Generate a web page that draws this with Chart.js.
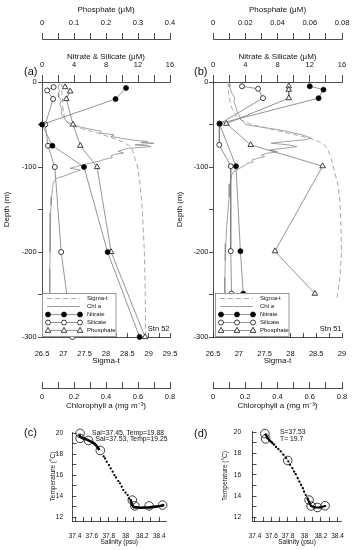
<!DOCTYPE html>
<html>
<head>
<meta charset="utf-8">
<script src="https://cdn.jsdelivr.net/npm/chart.js@4.4.1/dist/chart.umd.min.js"></script>
<style>
  html, body { margin: 0; padding: 0; background: #fff; }
  #fig { position: relative; width: 353px; height: 550px; overflow: hidden; font-family: 'Liberation Sans', Arial, sans-serif; color: #111; }
  .box { position: absolute; }
  .box canvas { display: block; }
  .lab { position: absolute; white-space: nowrap; line-height: 1; transform: translateY(-50%); }
  .lab.r { transform: translate(-100%, -50%); }
</style>
</head>
<body>
<div id="fig">
  <div class="box" style="left:0;top:0"><canvas id="cA" width="180" height="415"></canvas></div>
  <div class="box" style="left:170px;top:0"><canvas id="cB" width="183" height="415"></canvas></div>
  <div class="box" style="left:0;top:415px"><canvas id="cC" width="176" height="135"></canvas></div>
  <div class="box" style="left:176px;top:415px"><canvas id="cD" width="177" height="135"></canvas></div>

  <div class="lab" style="left:24px;top:71px;font-size:11px">(a)</div>
  <div class="lab" style="left:194px;top:71px;font-size:11px">(b)</div>
  <div class="lab" style="left:24px;top:432px;font-size:11px">(c)</div>
  <div class="lab" style="left:194px;top:433px;font-size:11px">(d)</div>
  <div class="lab r" style="left:169.5px;top:329px;font-size:7.5px">Stn 52</div>
  <div class="lab r" style="left:341.5px;top:329px;font-size:7.5px">Stn 51</div>
  <div class="lab" style="left:92px;top:432.7px;font-size:6.8px">Sal=37.45, Temp=19.88</div>
  <div class="lab" style="left:95.5px;top:438.5px;font-size:6.8px">Sal=37.53, Temp=19.25</div>
  <div class="lab" style="left:280px;top:431.7px;font-size:6.8px">S=37.53</div>
  <div class="lab" style="left:280px;top:439.3px;font-size:6.8px">T= 19.7</div>
</div>

<script>
// ---- (a) Stn 52 : depth profiles
const nitDepthA = [-7, -20, -50, -75, -100, -200, -300];
const nitrateA = [10.5, 9.2, 0, 1.3, 5.25, 8.2, 12.2];
const silDepthA = [-6, -10, -20, -50, -75, -100, -200, -300];
const silicateA = [1.45, 0.65, 1.38, 0.41, 0.75, 1.6, 2.4, 3.8];
const phoDepthA = [-6, -11, -20, -50, -75, -100, -200, -300];
const phosphateA = [0.072, 0.088, 0.076, 0.097, 0.12, 0.172, 0.216, 0.322];
const sigDepthA = [0, -10, -20, -30, -40, -46, -50, -55, -60, -65, -70, -75, -80, -90, -100, -120, -150, -200, -250, -300];
const sigmaA = [26.97, 26.96, 26.98, 26.99, 27.02, 27.06, 27.15, 27.45, 27.8, 28.1, 28.38, 28.55, 28.62, 28.68, 28.74, 28.8, 28.85, 28.9, 28.92, 28.93];
const chlDepthA = [-2, -6, -10, -14, -18, -22, -26, -30, -34, -38, -42, -46, -50, -53, -55, -58, -60, -62, -64, -67,
  -69, -70, -71, -72, -73, -74, -75, -76, -78, -80, -81.5, -83.5, -85, -87, -89, -91, -93, -95, -97, -99,
  -101.5, -103.5, -105, -107, -109, -111, -113, -116, -119, -125, -135, -145, -154, -170, -185, -200, -220, -240, -260, -280, -300];
const chlA = [0.11, 0.1, 0.11, 0.1, 0.105, 0.12, 0.11, 0.12, 0.125, 0.12, 0.14, 0.15, 0.19, 0.24, 0.29, 0.37, 0.36, 0.45, 0.43, 0.52,
  0.6, 0.66, 0.62, 0.7, 0.64, 0.58, 0.66, 0.68, 0.54, 0.5, 0.475, 0.51, 0.46, 0.43, 0.44, 0.39, 0.36, 0.31, 0.27, 0.225,
  0.175, 0.24, 0.22, 0.186, 0.16, 0.133, 0.092, 0.08, 0.07, 0.066, 0.06, 0.057, 0.054, 0.052, 0.05, 0.05, 0.049, 0.048, 0.048, 0.049, 0.05];

// ---- (b) Stn 51
const nitDepthB = [-5, -9, -19, -49, -99, -199, -249];
const nitrateB = [12.0, 13.7, 13.1, 0.8, 2.85, 3.4, 3.75];
const silDepthB = [-5, -8, -19, -49, -74, -99, -199, -249];
const silicateB = [3.6, 5.6, 6.2, 0.85, 0.78, 2.2, 2.2, 2.3];
const phoDepthB = [-5, -9, -19, -49, -74, -99, -199, -249];
const phosphateB = [0.047, 0.047, 0.047, 0.0083, 0.0234, 0.068, 0.0384, 0.0632];
const sigDepthB = [0, -10, -20, -30, -40, -45, -50, -55, -60, -66, -70, -74, -80, -90, -100, -120, -140, -170, -200, -230, -255];
const sigmaB = [26.79, 26.8, 26.82, 26.86, 26.95, 27.05, 27.25, 27.6, 27.95, 28.37, 28.55, 28.66, 28.73, 28.79, 28.83, 28.92, 28.96, 28.98, 28.99, 28.96, 28.9];
const chlDepthB = [-2, -6, -10, -14, -19, -24, -28, -31, -36, -40, -44, -48, -50, -52, -54, -56, -58, -60, -62, -64,
  -66, -68, -70, -72, -74, -76, -78, -80, -82, -84, -86, -88, -90, -92, -94, -96, -98, -100, -102, -105,
  -110, -120, -135, -150, -170, -190, -210, -230, -252];
const chlB = [0.1, 0.104, 0.11, 0.12, 0.135, 0.13, 0.14, 0.145, 0.15, 0.165, 0.17, 0.197, 0.2, 0.26, 0.33, 0.4, 0.46, 0.5, 0.55, 0.58,
  0.61, 0.57, 0.45, 0.36, 0.47, 0.52, 0.44, 0.35, 0.4, 0.33, 0.3, 0.32, 0.27, 0.24, 0.25, 0.21, 0.2, 0.18, 0.16, 0.13,
  0.115, 0.105, 0.1, 0.093, 0.085, 0.08, 0.076, 0.074, 0.073];

// ---- (c) T-S diagram
const bottleSalC = [37.46, 37.46, 37.56, 37.70, 38.08, 38.11, 38.28, 38.44];
const bottleTempC = [19.97, 19.5, 19.3, 18.35, 13.65, 13.1, 13.1, 13.18];
const ctdSalC = [37.74, 37.756, 37.776, 37.803, 37.823, 37.847, 37.866, 37.886, 37.914, 37.934, 37.954, 37.973, 38.0, 38.025, 38.04, 38.06];
const ctdTempC = [17.8, 17.6, 17.28, 16.97, 16.65, 16.34, 16.02, 15.8, 15.45, 15.24, 14.92, 14.6, 14.35, 14.13, 13.82, 13.66];
const topSalC = [37.45, 37.46, 37.49, 37.53, 37.56, 37.6, 37.63, 37.66, 37.69];
const topTempC = [19.88, 19.65, 19.5, 19.42, 19.3, 19.15, 19.0, 18.75, 18.4];
const botSalC = [38.06, 38.07, 38.08, 38.1, 38.17, 38.29, 38.41, 38.46];
const botTempC = [13.66, 13.4, 13.15, 12.98, 12.93, 12.96, 13.09, 13.18];

// ---- (d) T-S diagram
const bottleSalD = [37.52, 37.53, 37.797, 38.056, 38.08, 38.157, 38.25];
const bottleTempD = [19.86, 19.36, 17.34, 13.63, 13.07, 12.94, 13.1];
const ctdSalD = [37.53, 37.55, 37.574, 37.603, 37.631, 37.655, 37.683, 37.712, 37.744, 37.777, 37.805, 37.825, 37.853,
  37.874, 37.894, 37.918, 37.938, 37.959, 37.98, 37.995, 38.016, 38.036, 38.06, 38.08, 38.13, 38.19, 38.25];
const ctdTempD = [19.76, 19.45, 19.23, 19.04, 18.82, 18.6, 18.41, 18.19, 17.88, 17.56, 17.25, 16.93, 16.62,
  16.3, 16.06, 15.68, 15.36, 15.05, 14.74, 14.42, 14.1, 13.79, 13.38, 13.07, 12.94, 12.94, 13.07];
const topSalD = [37.52, 37.53, 37.55, 37.574, 37.603, 37.631];
const topTempD = [19.7, 19.76, 19.45, 19.23, 19.04, 18.82];
const botSalD = [38.036, 38.06, 38.08, 38.13, 38.19, 38.25];
const botTempD = [13.79, 13.38, 13.07, 12.94, 12.94, 13.07];

// tick values / labels for the T-S panels
const salTicks = [37.4, 37.5, 37.6, 37.7, 37.8, 37.9, 38.0, 38.1, 38.2, 38.3, 38.4];
const salTickLabels = ['37.4', '', '37.6', '', '37.8', '', '38', '', '38.2', '', '38.4'];
const tempTicks = [12, 13, 14, 15, 16, 17, 18, 19, 20];
const tempTickLabels = ['12', '', '14', '', '16', '', '18', '', '20'];

const FONT = "'Liberation Sans', Arial, sans-serif";
Chart.defaults.font.family = FONT;
Chart.defaults.color = '#111';
Chart.defaults.animation = false;

const zip = (xs, ys) => xs.map((x, i) => ({ x: x, y: ys[i] }));
const every = (step) => (v) => {
  const r = v / step;
  return Math.abs(r - Math.round(r)) < 1e-6 ? String(+v.toFixed(3)) : '';
};

// one axis; size fixes its box so the stacked axes land where the figure has them
function axis(o) {
  return {
    type: 'linear', position: o.pos, weight: o.weight || 0,
    min: o.min, max: o.max,
    afterBuildTicks: o.ticks ? (s) => { s.ticks = o.ticks.map(v => ({ value: v })); } : undefined,
    ticks: {
      stepSize: o.step, autoSkip: false, maxRotation: 0, padding: o.pad,
      font: { size: o.fs || 7.5 }, color: '#111',
      callback: o.labels ? (v, i) => o.labels[i] : every(o.every)
    },
    grid: { drawOnChartArea: false, tickLength: o.tl, color: '#222', lineWidth: 0.8 },
    border: { color: '#222', width: 0.8 },
    title: { display: true, text: o.title, font: { size: o.tfs || 8 }, color: '#111', padding: o.tpad },
    afterFit: (s) => {
      if (o.pos === 'left') s.width = o.size; else s.height = o.size;
      s.paddingLeft = 0; s.paddingRight = 0; s.paddingTop = 0; s.paddingBottom = 0;
    }
  };
}

function drawMarker(ctx, style, x, y, r, fill, stroke) {
  ctx.beginPath();
  if (style === 'triangle') {
    ctx.moveTo(x, y - r);
    ctx.lineTo(x + r * 0.87, y + r * 0.6);
    ctx.lineTo(x - r * 0.87, y + r * 0.6);
    ctx.closePath();
  } else {
    ctx.arc(x, y, r, 0, Math.PI * 2);
  }
  ctx.fillStyle = fill;
  ctx.fill();
  ctx.strokeStyle = stroke;
  ctx.lineWidth = 0.8;
  ctx.stroke();
}

// boxed legend sitting in the lower-left corner of the plot
const boxLegend = {
  id: 'boxLegend',
  afterDatasetsDraw(chart, args, opts) {
    if (!opts || !opts.show) return;
    const { ctx, chartArea } = chart;
    const w = 74.5, h = 44;
    const x0 = chartArea.left + opts.dx, y0 = chartArea.bottom - h;
    ctx.save();
    ctx.fillStyle = '#fff';
    ctx.fillRect(x0, y0, w, h);
    ctx.strokeStyle = '#555';
    ctx.lineWidth = 0.6;
    ctx.strokeRect(x0 + 0.5, y0 + 0.5, w - 1, h - 1);
    ctx.font = '6px ' + FONT;
    ctx.textBaseline = 'middle';
    chart.data.datasets.forEach((ds, i) => {
      const y = y0 + 5.5 + i * 8;
      ctx.setLineDash(ds.borderDash || []);
      ctx.strokeStyle = ds.borderColor;
      ctx.lineWidth = ds.borderWidth;
      ctx.beginPath();
      ctx.moveTo(x0 + 5, y);
      ctx.lineTo(x0 + 38, y);
      ctx.stroke();
      ctx.setLineDash([]);
      if (ds.pointRadius > 0) {
        [6, 22, 38].forEach(dx => drawMarker(ctx, ds.pointStyle, x0 + dx, y, ds.pointRadius, ds.pointBackgroundColor, ds.pointBorderColor));
      }
      ctx.fillStyle = '#111';
      ctx.fillText(ds.label, x0 + 45, y);
    });
    ctx.restore();
  }
};

function makeProfile(id, d) {
  const marker = (label, data, axisId, style, fill) => ({
    label: label, data: data, xAxisID: axisId, yAxisID: 'y', showLine: true,
    borderColor: '#7a7a7a', borderWidth: 0.8,
    pointStyle: style, pointRadius: style === 'triangle' ? 3.2 : 2.5,
    pointBackgroundColor: fill, pointBorderColor: '#111', pointBorderWidth: 0.8,
    clip: false, order: 0
  });
  return new Chart(document.getElementById(id), {
    type: 'scatter',
    data: {
      datasets: [
        { label: 'Sigma-t', data: d.sig, xAxisID: 'xSig', yAxisID: 'y', showLine: true, borderColor: '#a0a0a0', borderWidth: 0.9, borderDash: [5, 3], pointRadius: 0, order: 2 },
        { label: 'Chl a', data: d.chl, xAxisID: 'xChl', yAxisID: 'y', showLine: true, borderColor: '#8c8c8c', borderWidth: 0.8, pointRadius: 0, order: 2 },
        marker('Nitrate', d.nit, 'xNit', 'circle', '#000'),
        marker('Silicate', d.sil, 'xNit', 'circle', '#fff'),
        marker('Phosphate', d.pho, 'xPho', 'triangle', '#fff')
      ]
    },
    plugins: [boxLegend],
    options: {
      responsive: false,
      events: [],
      layout: { padding: { left: 0, right: d.padRight, top: 0, bottom: 0 } },
      plugins: { legend: { display: false }, tooltip: { enabled: false }, boxLegend: { show: true, dx: d.legendDx } },
      scales: {
        y: axis({ pos: 'left', min: -300, max: 0, step: 50, every: 100, tl: 4, pad: d.yPad, title: 'Depth (m)', tpad: { top: d.yTitlePad }, size: d.yWidth }),
        xNit: axis({ pos: 'top', weight: 0, min: 0, max: 16, step: 2, every: 4, tl: 7, pad: 5.5, title: 'Nitrate & Silicate (\u03bcM)', tpad: { top: 13.2 }, size: 43 }),
        xPho: axis({ pos: 'top', weight: 1, min: 0, max: d.phoMax, step: d.phoStep, every: d.phoEvery, tl: 6, pad: 5.5, title: 'Phosphate (\u03bcM)', tpad: { top: 5.2 }, size: 39 }),
        xSig: axis({ pos: 'bottom', weight: 0, min: 26.5, max: d.sigMax, step: 0.25, every: 0.5, tl: -4, pad: 16.5, title: 'Sigma-t', tpad: { bottom: 22.2 }, size: 51 }),
        xChl: axis({ pos: 'bottom', weight: 1, min: 0, max: 0.8, step: 0.1, every: 0.2, tl: -6, pad: 10.8, title: 'Chlorophyll a (mg m\u207b\u00b3)', tpad: { bottom: 4.2 }, size: 27 })
      }
    }
  });
}

function makeTS(id, d) {
  return new Chart(document.getElementById(id), {
    type: 'scatter',
    data: {
      datasets: [
        { data: d.bottle, pointStyle: 'circle', pointRadius: 4.3, pointBackgroundColor: 'rgba(0,0,0,0)', pointBorderColor: '#111', pointBorderWidth: 0.8, clip: false, order: 0 },
        { data: d.top, showLine: true, borderColor: '#000', borderWidth: d.heavy, pointRadius: 0, clip: false, order: 1 },
        { data: d.bot, showLine: true, borderColor: '#000', borderWidth: d.heavy, pointRadius: 0, clip: false, order: 1 },
        { data: d.ctd, showLine: d.thinLine, borderColor: '#888', borderWidth: 0.6, pointRadius: 1.15, pointBackgroundColor: '#000', pointBorderWidth: 0, clip: false, order: 2 }
      ]
    },
    options: {
      responsive: false,
      events: [],
      layout: { padding: { left: d.padLeft, right: d.padRight, top: d.padTop, bottom: 0 } },
      plugins: { legend: { display: false }, tooltip: { enabled: false } },
      scales: {
        y: axis({ pos: 'left', min: 11.67, max: 20.1, ticks: tempTicks, labels: tempTickLabels, tl: -4, pad: d.yPad, fs: 6.5, title: 'Temperature (\u00b0C)', tfs: 6.5, tpad: { top: 5.1 }, size: d.yWidth }),
        x: axis({ pos: 'bottom', min: 37.37, max: d.salMax, ticks: salTicks, labels: salTickLabels, tl: -4, pad: 15.1, fs: 6.5, title: 'Salinity (psu)', tfs: 6.5, tpad: { bottom: 4.1 }, size: 29 })
      }
    }
  });
}

makeProfile('cA', {
  nit: zip(nitrateA, nitDepthA), sil: zip(silicateA, silDepthA), pho: zip(phosphateA, phoDepthA),
  sig: zip(sigmaA, sigDepthA), chl: zip(chlA, chlDepthA),
  phoMax: 0.4, phoStep: 0.05, phoEvery: 0.1, sigMax: 29.5,
  yWidth: 42, yPad: 1.3, yTitlePad: 2.2, padRight: 10, legendDx: 0
});

makeProfile('cB', {
  nit: zip(nitrateB, nitDepthB), sil: zip(silicateB, silDepthB), pho: zip(phosphateB, phoDepthB),
  sig: zip(sigmaB, sigDepthB), chl: zip(chlB, chlDepthB),
  phoMax: 0.08, phoStep: 0.01, phoEvery: 0.02, sigMax: 29,
  yWidth: 43, yPad: 0.5, yTitlePad: 5.2, padRight: 11, legendDx: 2
});

makeTS('cC', {
  bottle: zip(bottleSalC, bottleTempC), ctd: zip(ctdSalC, ctdTempC),
  top: zip(topSalC, topTempC), bot: zip(botSalC, botTempC),
  heavy: 2.6, thinLine: false, salMax: 38.48,
  padLeft: 44, padRight: 10, padTop: 17, yWidth: 28.5, yPad: 13.5
});

makeTS('cD', {
  bottle: zip(bottleSalD, bottleTempD), ctd: zip(ctdSalD, ctdTempD),
  top: zip(topSalD, topTempD), bot: zip(botSalD, botTempD),
  heavy: 2, thinLine: true, salMax: 38.45,
  padLeft: 40, padRight: 11.4, padTop: 16, yWidth: 36.5, yPad: 15.5
});
</script>
</body>
</html>
